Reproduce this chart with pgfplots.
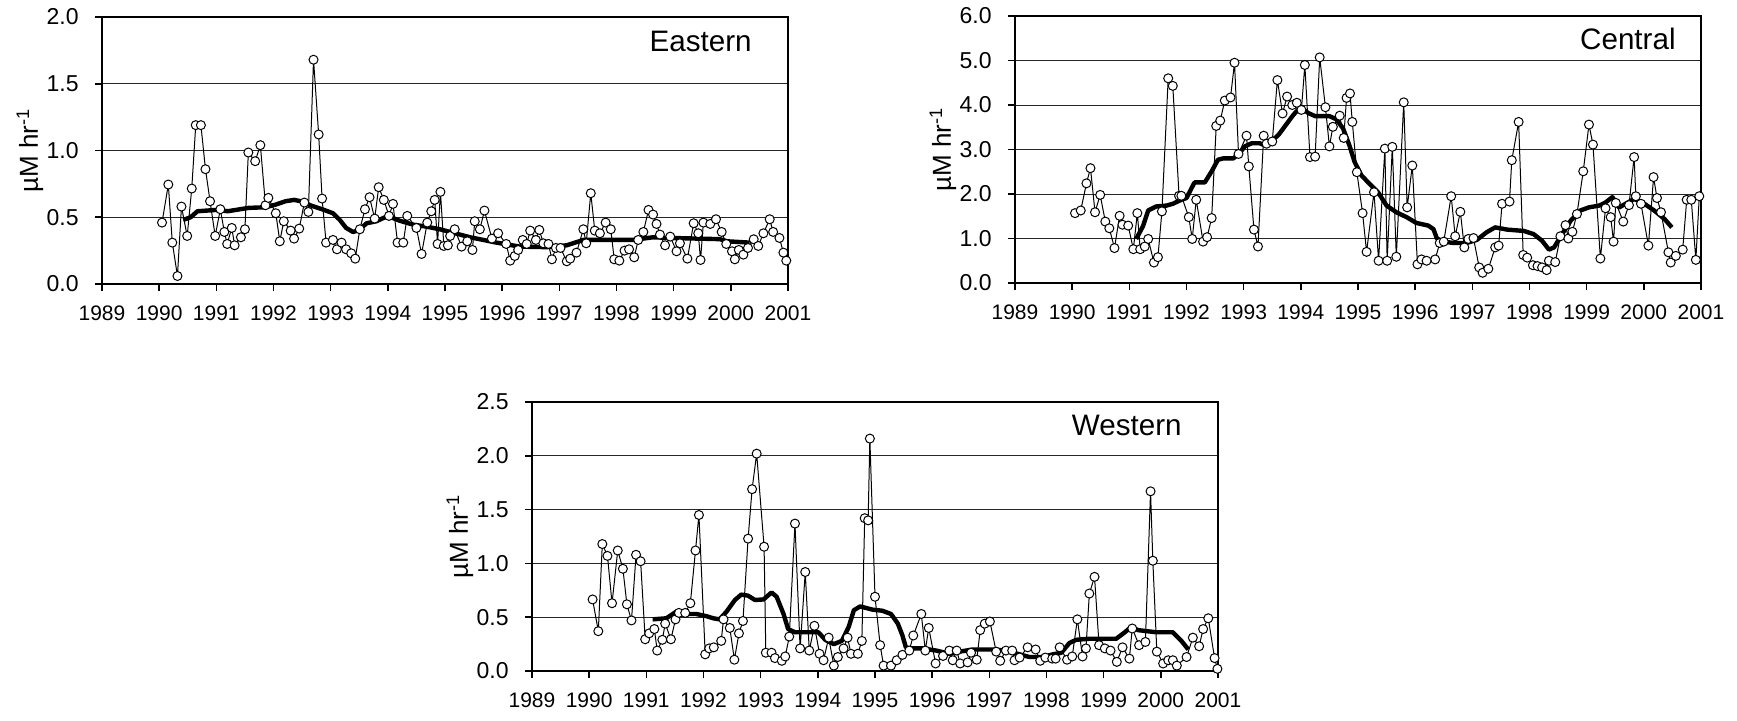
\documentclass[border=0pt]{standalone}
\usepackage{pgfplots}
\pgfplotsset{compat=1.18}
\usepackage{fontspec}
\setmainfont{Liberation Sans}

\pgfplotsset{
  panel/.style={
    scale only axis, width=343pt, height=133.5pt,
    anchor=south west,
    xmin=1989, xmax=2001, ymin=0,
    xtick={1989,1990,...,2001},
    tick pos=left, tick align=outside,
    major tick length=3.5pt,
    ymajorgrids, grid style={black!85, line width=0.5pt},
    axis line style={line width=1.2pt},
    every tick/.style={black, line width=0.8pt},
    /pgf/number format/assume math mode=true,
    xticklabel style={font=\fontsize{10.5}{12}\selectfont, inner sep=0pt, yshift=-7pt},
    x tick label style={/pgf/number format/1000 sep={}},
    yticklabel style={font=\fontsize{11.5}{13}\selectfont, inner sep=0pt, xshift=-8pt},
    y tick label style={/pgf/number format/fixed, /pgf/number format/fixed zerofill, /pgf/number format/precision=1},
    ylabel={µM hr\textsuperscript{-1}},
    ylabel style={at={([xshift=-36pt]axis description cs:0,0.5)}, anchor=center, font=\fontsize{13}{15}\selectfont},
  },
  pts/.style={black, line width=0.5pt, mark=*, mark size=2.25pt, mark options={fill=white, draw=black, line width=0.5pt}},
  avg/.style={black, line width=2.2pt, line join=round, no marks},
}

\begin{document}
\begin{tikzpicture}
\useasboundingbox (0,0) rectangle (868.5pt,360pt);

% Eastern
\begin{axis}[panel, at={(51pt,218pt)}, ymax=2.0, ytick={0,0.5,...,2.0}]
\addplot[avg] coordinates {
(1990.42,0.48) (1990.55,0.50) (1990.67,0.545) (1991.0,0.555) (1991.2,0.545) (1991.56,0.57)
(1991.86,0.575) (1992.04,0.595) (1992.21,0.62) (1992.36,0.63) (1992.48,0.62) (1992.66,0.587)
(1992.87,0.557) (1993.04,0.53) (1993.16,0.48) (1993.27,0.42) (1993.39,0.39) (1993.48,0.40)
(1993.63,0.455) (1993.8,0.47) (1994.0,0.51) (1994.2,0.475) (1994.44,0.445) (1994.67,0.43)
(1994.91,0.41) (1995.44,0.35) (1995.90,0.31) (1996.31,0.28) (1996.78,0.276) (1997.13,0.29)
(1997.42,0.33) (1998.29,0.33) (1998.64,0.35) (1998.94,0.345) (1999.81,0.336) (1999.93,0.32)
(2000.33,0.31)};
\addplot[pts] coordinates {
(1990.05,0.46) (1990.16,0.745) (1990.23,0.31) (1990.32,0.06) (1990.39,0.58) (1990.49,0.36)
(1990.57,0.715) (1990.64,1.19) (1990.73,1.19) (1990.81,0.86) (1990.89,0.62) (1990.98,0.36)
(1991.07,0.56) (1991.14,0.39) (1991.19,0.30) (1991.27,0.42) (1991.32,0.29) (1991.43,0.35)
(1991.50,0.41) (1991.56,0.985) (1991.68,0.92) (1991.77,1.04) (1991.86,0.59) (1991.91,0.645)
(1992.04,0.53) (1992.11,0.32) (1992.18,0.47) (1992.30,0.40) (1992.36,0.34) (1992.45,0.415)
(1992.54,0.61) (1992.61,0.54) (1992.70,1.68) (1992.79,1.12) (1992.85,0.64) (1992.92,0.31)
(1993.04,0.33) (1993.11,0.26) (1993.19,0.31) (1993.27,0.26) (1993.36,0.23) (1993.43,0.19)
(1993.51,0.41) (1993.60,0.56) (1993.68,0.65) (1993.77,0.49) (1993.84,0.725) (1993.93,0.63)
(1994.02,0.51) (1994.09,0.60) (1994.17,0.31) (1994.27,0.31) (1994.34,0.51) (1994.50,0.42)
(1994.59,0.225) (1994.69,0.46) (1994.76,0.545) (1994.82,0.63) (1994.87,0.30) (1994.92,0.69)
(1994.98,0.285) (1995.05,0.29) (1995.09,0.36) (1995.17,0.41) (1995.29,0.28) (1995.39,0.32)
(1995.48,0.255) (1995.52,0.47) (1995.61,0.41) (1995.69,0.55) (1995.82,0.34) (1995.93,0.38)
(1996.07,0.30) (1996.14,0.175) (1996.22,0.21) (1996.28,0.255) (1996.36,0.33) (1996.43,0.30)
(1996.49,0.40) (1996.59,0.33) (1996.65,0.405) (1996.72,0.305) (1996.81,0.30) (1996.87,0.185)
(1996.94,0.27) (1997.02,0.27) (1997.13,0.17) (1997.19,0.19) (1997.30,0.235) (1997.42,0.41)
(1997.47,0.305) (1997.55,0.68) (1997.62,0.40) (1997.71,0.38) (1997.81,0.46) (1997.90,0.41)
(1997.96,0.185) (1998.05,0.175) (1998.14,0.25) (1998.22,0.26) (1998.31,0.20) (1998.38,0.33)
(1998.47,0.39) (1998.56,0.555) (1998.64,0.52) (1998.70,0.45) (1998.76,0.37) (1998.85,0.29)
(1998.94,0.355) (1999.05,0.245) (1999.11,0.305) (1999.24,0.19) (1999.35,0.455) (1999.43,0.38)
(1999.47,0.18) (1999.52,0.46) (1999.64,0.45) (1999.74,0.485) (1999.84,0.39) (1999.92,0.30)
(2000.02,0.245) (2000.07,0.185) (2000.14,0.255) (2000.22,0.22) (2000.30,0.27) (2000.40,0.335)
(2000.48,0.285) (2000.57,0.38) (2000.68,0.485) (2000.74,0.39) (2000.85,0.345) (2000.92,0.235)
(2000.97,0.175)};
\node[anchor=north east, inner sep=0pt, font=\fontsize{14.8}{16}\selectfont] at ([xshift=-18pt,yshift=-7pt]rel axis cs:1,1) {Eastern};
\end{axis}

% Central
\begin{axis}[panel, at={(507.5pt,218.5pt)}, ymax=6.0, ytick={0,1,...,6}]
\addplot[avg] coordinates {
(1991.12,0.99) (1991.24,1.28) (1991.33,1.63) (1991.47,1.72) (1991.65,1.74) (1991.76,1.78)
(1991.91,1.87) (1992.0,1.91) (1992.14,2.26) (1992.32,2.26) (1992.44,2.51) (1992.55,2.77)
(1992.64,2.80) (1992.82,2.80) (1992.93,2.92) (1993.02,3.07) (1993.14,3.14) (1993.28,3.14)
(1993.40,3.08) (1993.49,3.19) (1993.61,3.33) (1993.72,3.52) (1993.87,3.78) (1993.95,3.89)
(1994.01,3.93) (1994.13,3.82) (1994.25,3.75) (1994.50,3.75) (1994.62,3.68) (1994.74,3.47)
(1994.85,3.09) (1994.94,2.72) (1995.06,2.42) (1995.20,2.23) (1995.35,2.04) (1995.50,1.74)
(1995.67,1.59) (1995.85,1.48) (1996.02,1.35) (1996.23,1.29) (1996.32,1.21) (1996.38,1.00)
(1996.49,0.93) (1996.67,0.90) (1996.90,0.90) (1997.08,0.97) (1997.25,1.14) (1997.40,1.25)
(1997.61,1.20) (1997.90,1.17) (1998.07,1.10) (1998.22,0.95) (1998.34,0.75) (1998.43,0.80)
(1998.57,1.10) (1998.72,1.40) (1998.89,1.63) (1999.04,1.70) (1999.22,1.74) (1999.33,1.81)
(1999.45,1.93) (1999.57,1.70) (1999.68,1.78) (1999.83,1.89) (2000.01,1.78) (2000.18,1.63)
(2000.36,1.44) (2000.49,1.25)};
\addplot[pts] coordinates {
(1990.05,1.57) (1990.15,1.63) (1990.25,2.24) (1990.32,2.58) (1990.40,1.59) (1990.49,1.98)
(1990.58,1.38) (1990.65,1.23) (1990.74,0.785) (1990.83,1.51) (1990.88,1.31) (1990.98,1.29)
(1991.07,0.76) (1991.14,1.57) (1991.19,0.76) (1991.27,0.82) (1991.33,0.99) (1991.43,0.46)
(1991.50,0.58) (1991.57,1.61) (1991.68,4.60) (1991.76,4.43) (1991.87,1.96) (1991.91,1.96)
(1992.04,1.48) (1992.10,0.99) (1992.17,1.87) (1992.29,0.93) (1992.36,1.03) (1992.44,1.46)
(1992.52,3.53) (1992.59,3.65) (1992.67,4.10) (1992.77,4.17) (1992.84,4.95) (1992.91,2.90)
(1993.05,3.31) (1993.09,2.62) (1993.18,1.20) (1993.25,0.82) (1993.35,3.31) (1993.40,3.13)
(1993.50,3.18) (1993.59,4.56) (1993.68,3.81) (1993.76,4.19) (1993.85,4.00) (1993.93,4.05)
(1994.01,3.89) (1994.07,4.90) (1994.16,2.83) (1994.25,2.84) (1994.33,5.07) (1994.43,3.95)
(1994.50,3.07) (1994.56,3.51) (1994.68,3.76) (1994.75,3.26) (1994.80,4.16) (1994.86,4.26)
(1994.90,3.62) (1994.98,2.49) (1995.08,1.57) (1995.15,0.70) (1995.28,2.04) (1995.36,0.50)
(1995.47,3.02) (1995.51,0.50) (1995.60,3.06) (1995.67,0.59) (1995.80,4.06) (1995.86,1.70)
(1995.95,2.64) (1996.04,0.42) (1996.11,0.53) (1996.20,0.50) (1996.35,0.53) (1996.43,0.90)
(1996.50,0.93) (1996.63,1.95) (1996.70,1.05) (1996.79,1.60) (1996.86,0.80) (1996.93,0.99)
(1997.02,1.01) (1997.12,0.35) (1997.18,0.23) (1997.28,0.32) (1997.40,0.80) (1997.46,0.84)
(1997.52,1.78) (1997.65,1.83) (1997.69,2.76) (1997.81,3.62) (1997.89,0.63) (1997.96,0.57)
(1998.06,0.40) (1998.14,0.38) (1998.22,0.35) (1998.30,0.29) (1998.34,0.50) (1998.45,0.47)
(1998.54,1.05) (1998.63,1.30) (1998.68,1.00) (1998.75,1.15) (1998.83,1.55) (1998.94,2.51)
(1999.04,3.56) (1999.11,3.11) (1999.24,0.55) (1999.33,1.68) (1999.42,1.48) (1999.47,0.93)
(1999.51,1.80) (1999.64,1.38) (1999.74,1.75) (1999.83,2.83) (1999.86,1.95) (1999.95,1.78)
(2000.08,0.84) (2000.17,2.38) (2000.23,1.91) (2000.30,1.59) (2000.43,0.69) (2000.47,0.46)
(2000.56,0.61) (2000.68,0.75) (2000.75,1.87) (2000.83,1.87) (2000.91,0.52) (2000.97,1.95)};
\node[anchor=north east, inner sep=0pt, font=\fontsize{14.8}{16}\selectfont] at ([xshift=-12.5pt,yshift=-6pt]rel axis cs:1,1) {Central};
\end{axis}

% Western
\begin{axis}[panel, at={(266pt,24.5pt)}, height=134.5pt, ymax=2.5, ytick={0,0.5,...,2.5}]
\addplot[avg] coordinates {
(1991.11,0.48) (1991.35,0.49) (1991.52,0.55) (1991.70,0.53) (1991.87,0.53) (1992.05,0.51)
(1992.17,0.49) (1992.28,0.48) (1992.40,0.55) (1992.55,0.66) (1992.66,0.71) (1992.78,0.70)
(1992.90,0.66) (1993.05,0.665) (1993.19,0.73) (1993.28,0.69) (1993.40,0.53) (1993.48,0.39)
(1993.60,0.36) (1993.81,0.36) (1994.01,0.36) (1994.13,0.29) (1994.28,0.25) (1994.42,0.28)
(1994.54,0.41) (1994.63,0.565) (1994.74,0.60) (1994.96,0.57) (1995.13,0.56) (1995.28,0.53)
(1995.40,0.44) (1995.48,0.33) (1995.54,0.22) (1995.60,0.21) (1995.83,0.21) (1996.07,0.19)
(1996.30,0.16) (1996.48,0.18) (1996.71,0.20) (1997.06,0.20) (1997.29,0.19) (1997.53,0.155)
(1997.70,0.13) (1997.94,0.13) (1998.11,0.155) (1998.26,0.17) (1998.40,0.26) (1998.52,0.29)
(1998.75,0.30) (1999.22,0.30) (1999.37,0.36) (1999.48,0.41) (1999.60,0.38) (1999.92,0.36)
(2000.21,0.36) (2000.36,0.28) (2000.48,0.20)};
\addplot[pts] coordinates {
(1990.06,0.665) (1990.16,0.37) (1990.23,1.18) (1990.32,1.07) (1990.40,0.63) (1990.50,1.12)
(1990.59,0.95) (1990.66,0.62) (1990.74,0.47) (1990.82,1.08) (1990.90,1.02) (1990.98,0.295)
(1991.05,0.35) (1991.14,0.39) (1991.19,0.19) (1991.28,0.29) (1991.33,0.44) (1991.43,0.295)
(1991.51,0.48) (1991.57,0.54) (1991.68,0.54) (1991.77,0.63) (1991.86,1.12) (1991.92,1.45)
(1992.03,0.155) (1992.10,0.21) (1992.18,0.22) (1992.31,0.28) (1992.35,0.48) (1992.46,0.40)
(1992.54,0.105) (1992.62,0.35) (1992.69,0.465) (1992.78,1.23) (1992.85,1.69) (1992.93,2.02)
(1993.06,1.155) (1993.09,0.17) (1993.19,0.17) (1993.25,0.12) (1993.37,0.095) (1993.43,0.135)
(1993.50,0.32) (1993.60,1.37) (1993.69,0.21) (1993.78,0.92) (1993.85,0.19) (1993.94,0.42)
(1994.03,0.16) (1994.10,0.10) (1994.19,0.31) (1994.28,0.05) (1994.35,0.13) (1994.45,0.21)
(1994.52,0.31) (1994.58,0.16) (1994.70,0.16) (1994.77,0.28) (1994.82,1.42) (1994.88,1.40)
(1994.91,2.16) (1995.00,0.69) (1995.09,0.24) (1995.15,0.05) (1995.28,0.05) (1995.38,0.10)
(1995.48,0.15) (1995.60,0.19) (1995.67,0.33) (1995.81,0.53) (1995.88,0.19) (1995.94,0.40)
(1996.06,0.07) (1996.19,0.14) (1996.30,0.19) (1996.36,0.10) (1996.43,0.19) (1996.49,0.07)
(1996.62,0.08) (1996.68,0.17) (1996.78,0.105) (1996.84,0.38) (1996.92,0.44) (1997.01,0.46)
(1997.12,0.18) (1997.19,0.095) (1997.29,0.19) (1997.40,0.19) (1997.44,0.10) (1997.53,0.125)
(1997.67,0.22) (1997.81,0.20) (1997.89,0.095) (1997.98,0.125) (1998.10,0.115) (1998.16,0.115)
(1998.23,0.22) (1998.36,0.105) (1998.45,0.135) (1998.54,0.48) (1998.63,0.135) (1998.69,0.21)
(1998.75,0.72) (1998.84,0.875) (1998.92,0.24) (1999.02,0.21) (1999.12,0.19) (1999.23,0.085)
(1999.33,0.22) (1999.45,0.115) (1999.50,0.395) (1999.62,0.24) (1999.73,0.27) (1999.82,1.67)
(1999.86,1.025) (1999.93,0.18) (2000.04,0.07) (2000.13,0.10) (2000.21,0.10) (2000.28,0.05)
(2000.45,0.13) (2000.56,0.31) (2000.67,0.23) (2000.74,0.39) (2000.83,0.49) (2000.94,0.12)
(2000.99,0.02)};
\node[anchor=north east, inner sep=0pt, font=\fontsize{14.8}{16}\selectfont] at ([xshift=-18pt,yshift=-6.5pt]rel axis cs:1,1) {Western};
\end{axis}
\end{tikzpicture}
\end{document}
